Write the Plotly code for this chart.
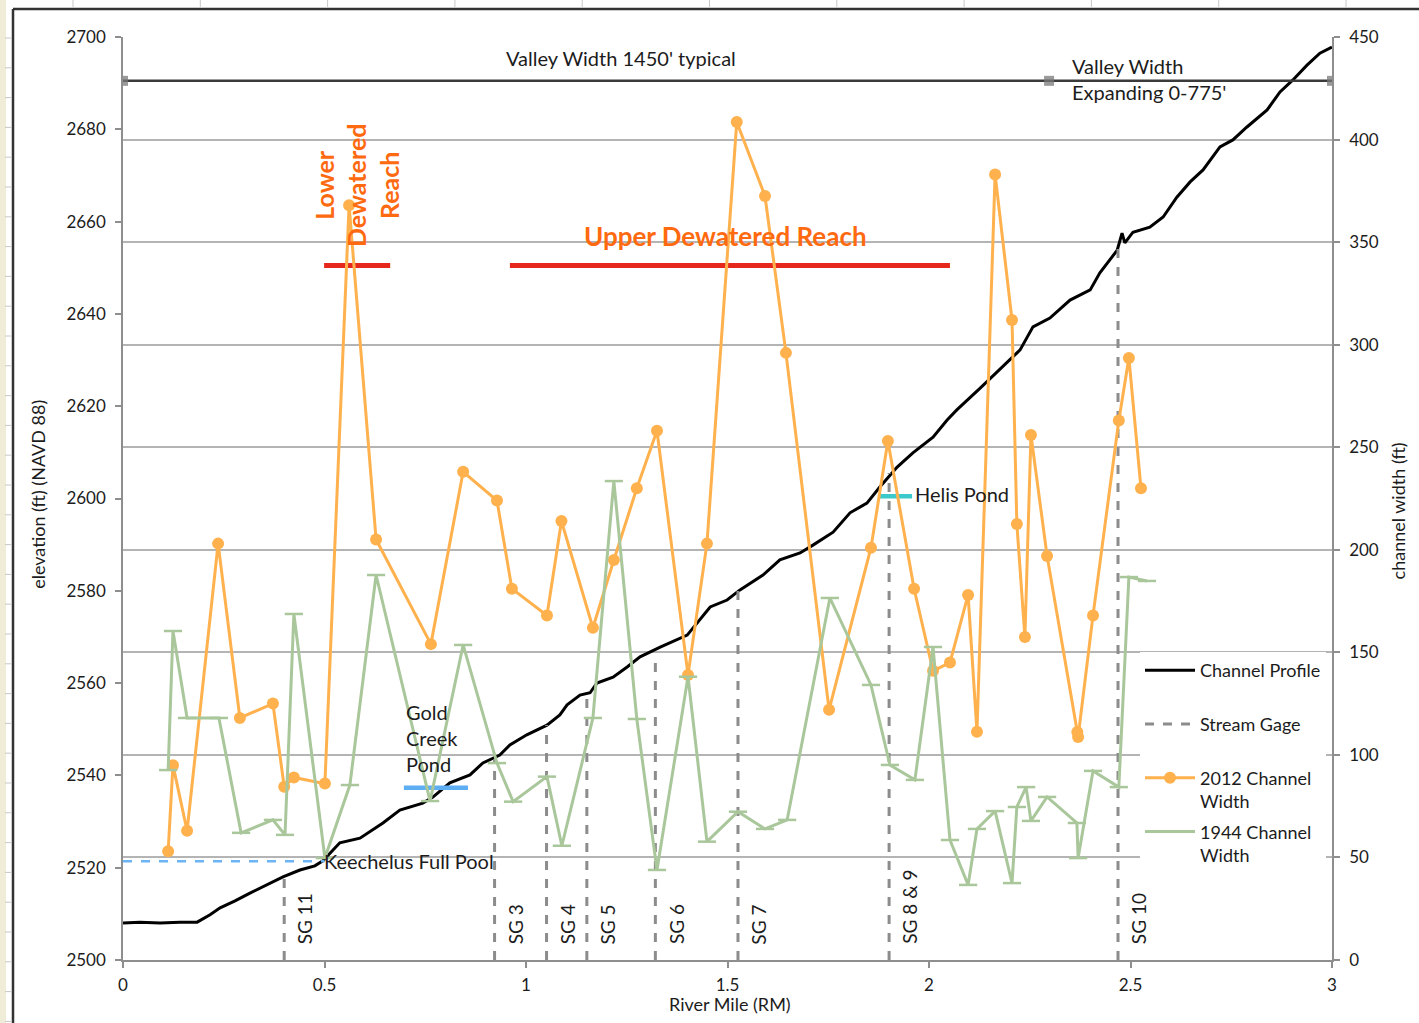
import plotly.graph_objects as go

# ---------------- data ----------------
profile_rm = [0.000, 0.042, 0.092, 0.141, 0.184, 0.216, 0.241, 0.278, 0.315, 0.360,
              0.397, 0.439, 0.476, 0.496, 0.538, 0.588, 0.645, 0.687, 0.744, 0.769,
              0.811, 0.861, 0.893, 0.935, 0.960, 1.002, 1.052, 1.084, 1.102, 1.134,
              1.159, 1.176, 1.216, 1.251, 1.283, 1.333, 1.400, 1.457, 1.499, 1.531,
              1.588, 1.630, 1.680, 1.712, 1.762, 1.804, 1.846, 1.878, 1.921, 1.960,
              2.010, 2.045, 2.069, 2.127, 2.194, 2.226, 2.258, 2.300, 2.350, 2.400,
              2.424, 2.467, 2.479, 2.486, 2.506, 2.548, 2.581, 2.615, 2.648, 2.680,
              2.722, 2.754, 2.789, 2.839, 2.871, 2.903, 2.938, 2.970, 3.000]
profile_elev = [2508.0, 2508.2, 2508.0, 2508.2, 2508.2, 2509.8, 2511.3, 2512.8, 2514.5, 2516.5,
                2518.0, 2519.5, 2520.4, 2521.5, 2525.4, 2526.4, 2529.7, 2532.5, 2534.0, 2535.3,
                2538.4, 2540.1, 2542.7, 2544.4, 2546.6, 2548.8, 2550.9, 2553.1, 2555.3, 2557.4,
                2557.9, 2560.0, 2561.3, 2563.5, 2565.7, 2567.8, 2570.4, 2576.5, 2578.0, 2580.2,
                2583.4, 2586.7, 2588.2, 2589.9, 2592.7, 2596.9, 2599.0, 2602.5, 2606.8, 2609.9,
                2613.3, 2617.0, 2619.2, 2623.9, 2629.4, 2632.2, 2637.2, 2639.1, 2643.0, 2645.2,
                2648.9, 2653.8, 2657.5, 2655.4, 2657.7, 2658.8, 2661.0, 2665.3, 2668.6, 2671.2,
                2676.2, 2677.7, 2680.5, 2684.2, 2688.1, 2690.7, 2693.9, 2696.5, 2697.8]

gage_rm = [0.400, 0.922, 1.051, 1.151, 1.321, 1.526, 1.901, 2.469]
gage_top = [2518.0, 2543.5, 2550.9, 2557.5, 2566.3, 2580.2, 2605.5, 2655.0]
gage_labels = ["SG 11", "SG 3", "SG 4", "SG 5", "SG 6", "SG 7", "SG 8 &amp; 9", "SG 10"]

w2012_rm = [0.112, 0.124, 0.159, 0.236, 0.290, 0.372, 0.400, 0.424, 0.501, 0.561,
            0.628, 0.764, 0.844, 0.928, 0.965, 1.052, 1.088, 1.166, 1.218, 1.275,
            1.325, 1.402, 1.449, 1.523, 1.593, 1.645, 1.752, 1.856, 1.898, 1.963,
            2.010, 2.052, 2.097, 2.119, 2.164, 2.206, 2.218, 2.238, 2.253, 2.293,
            2.368, 2.370, 2.407, 2.471, 2.496, 2.526]
w2012 = [53, 95, 63, 203, 118, 125, 84.5, 89, 86, 368,
         205, 154, 238, 224, 181, 168, 214, 162, 195, 230,
         258, 139, 203, 408.6, 372.5, 296, 122, 201, 253, 181,
         141, 145, 178, 111.3, 383, 312, 212.6, 157.5, 256, 197,
         111.2, 108.7, 168, 263, 293.5, 230]

w1944_rm = [0.112, 0.124, 0.159, 0.238, 0.293, 0.372, 0.402, 0.424, 0.501, 0.563,
            0.628, 0.762, 0.844, 0.928, 0.968, 1.052, 1.089, 1.166, 1.218, 1.275,
            1.325, 1.402, 1.449, 1.526, 1.593, 1.648, 1.754, 1.856, 1.903, 1.965,
            2.010, 2.052, 2.097, 2.119, 2.164, 2.206, 2.218, 2.241, 2.253, 2.293,
            2.367, 2.370, 2.407, 2.471, 2.496, 2.541]
w1944 = [92.6, 160.4, 118, 118, 62, 68.3, 61, 168.7, 49.7, 85.3,
         187.7, 77.5, 153.6, 96, 77.2, 89.4, 55.7, 118, 233.5, 117.5,
         43.9, 138.1, 57.7, 72.3, 63.9, 68.3, 176.5, 134.1, 95.1, 87.8,
         152.6, 58.5, 36.6, 63.9, 72.6, 37.5, 74.6, 84.3, 67.8, 79.5,
         66.8, 49.7, 92.2, 84.3, 186.7, 184.8]

valley_rm = [0.0, 2.298, 3.0]
valley_elev = [2690.5, 2690.5, 2690.5]
lower_reach_rm = [0.499, 0.663]
upper_reach_rm = [0.960, 2.052]
reach_elev = 2650.5
keechelus_rm = [0.0, 0.500]
keechelus_elev = 2521.4
gold_creek_rm = [0.697, 0.856]
gold_creek_elev = 2537.3
helis_rm = [1.878, 1.958]
helis_elev = 2600.5

x_ticks = [0, 0.5, 1, 1.5, 2, 2.5, 3]

FONT = "Lato"
TXT = "#1c1c1c"
ORANGE = "#FFB14E"
GREEN = "#A9C79B"
NB = "\u00a0"

fig = go.Figure()

# Channel profile
fig.add_trace(go.Scatter(x=profile_rm, y=profile_elev, mode="lines",
                         line=dict(color="black", width=3),
                         name="Channel Profile<br>" + NB, legendgroup="a"))
# Stream gages
gx, gy = [], []
for r, t in zip(gage_rm, gage_top):
    gx += [r, r, None]
    gy += [2500, t, None]
fig.add_trace(go.Scatter(x=gx, y=gy, mode="lines",
                         line=dict(color="#8C8C8C", width=3, dash="dash"),
                         name="Stream Gage<br>" + NB, legendgroup="b"))
# 2012 width
fig.add_trace(go.Scatter(x=w2012_rm, y=w2012, yaxis="y2", mode="lines+markers",
                         line=dict(color=ORANGE, width=3),
                         marker=dict(color=ORANGE, size=12, symbol="circle"),
                         name="2012 Channel<br>Width", legendgroup="c"))
# 1944 width
fig.add_trace(go.Scatter(x=w1944_rm, y=w1944, yaxis="y2", mode="lines+markers",
                         line=dict(color=GREEN, width=3),
                         marker=dict(color=GREEN, size=13, symbol="line-ew",
                                     line=dict(color=GREEN, width=2.5)),
                         name="1944 Channel<br>Width", legendgroup="d"))

# reference lines (no legend)
fig.add_trace(go.Scatter(x=valley_rm, y=valley_elev, mode="lines+markers",
                         line=dict(color="#3a3a3a", width=2.5),
                         marker=dict(symbol="square", size=10, color="rgba(120,120,120,0.75)"),
                         showlegend=False, hoverinfo="skip"))
for seg in (lower_reach_rm, upper_reach_rm):
    fig.add_trace(go.Scatter(x=seg, y=[reach_elev] * 2, mode="lines",
                             line=dict(color="#E5281B", width=5),
                             showlegend=False, hoverinfo="skip"))
fig.add_trace(go.Scatter(x=keechelus_rm, y=[keechelus_elev] * 2, mode="lines",
                         line=dict(color="#6DB4F5", width=2.5, dash="dash"),
                         showlegend=False, hoverinfo="skip"))
fig.add_trace(go.Scatter(x=gold_creek_rm, y=[gold_creek_elev] * 2, mode="lines",
                         line=dict(color="#5DAEF3", width=4.5),
                         showlegend=False, hoverinfo="skip"))
fig.add_trace(go.Scatter(x=helis_rm, y=[helis_elev] * 2, mode="lines",
                         line=dict(color="#3CC9CC", width=4.5),
                         showlegend=False, hoverinfo="skip"))

ann = []
for r, lab in zip(gage_rm, gage_labels):
    ann.append(dict(x=r, y=2503, xref="x", yref="y", text=lab, textangle=-90,
                    xanchor="left", yanchor="bottom", xshift=7, showarrow=False,
                    font=dict(family=FONT, size=19, color=TXT)))

ann += [
    dict(x=1.236, y=2695.4, text="Valley Width 1450' typical", xanchor="center", yanchor="middle"),
    dict(x=2.350, y=2691.0, text="Valley Width<br>Expanding 0-775'", xanchor="left",
         yanchor="middle", align="left"),
    dict(x=0.494, y=2521.5, text="Keechelus Full Pool", xanchor="left", yanchor="middle"),
    dict(x=0.697, y=2548.1, text="Gold<br>Creek<br>Pond", xanchor="left", yanchor="middle",
         align="left"),
    dict(x=1.960, y=2601.0, text="Helis Pond", xanchor="left", yanchor="middle"),
]
for a in ann[len(gage_rm):]:
    a.update(xref="x", yref="y", showarrow=False, font=dict(family=FONT, size=20, color=TXT))

ann += [
    dict(x=1.496, y=2656.9, xref="x", yref="y", text="<b>Upper Dewatered Reach</b>",
         showarrow=False, xanchor="center", yanchor="middle",
         font=dict(family=FONT, size=26, color="#FF6A10")),
    dict(x=0.578, y=2667.9, xref="x", yref="y", text="<b>Lower<br>Dewatered<br>Reach</b>",
         showarrow=False, xanchor="center", yanchor="middle", textangle=-90, align="center",
         font=dict(family=FONT, size=25, color="#FF6A10")),
    # axis titles
    dict(x=-0.0703, y=0.504, xref="paper", yref="paper", text="elevation (ft) (NAVD 88)",
         textangle=-90, showarrow=False, xanchor="center", yanchor="middle",
         font=dict(family=FONT, size=18, color=TXT)),
    dict(x=1.0546, y=0.486, xref="paper", yref="paper", text="channel width (ft)",
         textangle=-90, showarrow=False, xanchor="center", yanchor="middle",
         font=dict(family=FONT, size=18, color=TXT)),
    dict(x=0.502, y=-0.0475, xref="paper", yref="paper", text="River Mile (RM)",
         showarrow=False, xanchor="center", yanchor="middle",
         font=dict(family=FONT, size=18, color=TXT)),
]

# page decorations (spreadsheet frame)
PW, PH = 1209.0, 923.0
def px(x):
    return (x - 123) / PW
def py(y):
    return (960 - y) / PH

shapes = [
    dict(type="rect", xref="paper", yref="paper", x0=px(0), x1=px(6), y0=py(1023), y1=py(0),
         fillcolor="#EFEDD8", line=dict(width=0), layer="below"),
    dict(type="line", xref="paper", yref="paper", x0=px(13), x1=px(1419), y0=py(9), y1=py(9),
         line=dict(color="#333333", width=2.5)),
    dict(type="line", xref="paper", yref="paper", x0=px(13), x1=px(13), y0=py(9), y1=py(1023),
         line=dict(color="#333333", width=2.5)),
]
for k in range(11):
    xx = 73 + 127.3 * k
    shapes.append(dict(type="line", xref="paper", yref="paper", x0=px(xx), x1=px(xx),
                       y0=py(0), y1=py(7), line=dict(color="#C8C8C8", width=1)))
for k in range(34):
    yy = 38 + 29.8 * k
    shapes.append(dict(type="line", xref="paper", yref="paper", x0=px(5), x1=px(12),
                       y0=py(yy), y1=py(yy), line=dict(color="#C8C8C8", width=1)))

axis_common = dict(showline=True, linecolor="#8E8E8E", linewidth=1.5, ticks="outside",
                   tickcolor="#8E8E8E", ticklen=6, tickwidth=1.5,
                   tickfont=dict(family=FONT, size=17, color=TXT), zeroline=False)

fig.update_layout(
    width=1419, height=1023, autosize=False,
    margin=dict(l=123, r=87, t=37, b=63),
    paper_bgcolor="white", plot_bgcolor="white",
    xaxis=dict(range=[0, 3], tickvals=x_ticks, showgrid=False, ticklabelstandoff=3,
               **axis_common),
    yaxis=dict(range=[2500, 2700], dtick=20, showgrid=False, ticklabelstandoff=6,
               **axis_common),
    yaxis2=dict(range=[0, 450], dtick=50, overlaying="y", side="right", showgrid=True,
                gridcolor="#B4B4B4", gridwidth=1.5, ticklabelstandoff=6, **axis_common),
    legend=dict(x=px(1140), y=py(652), xanchor="left", yanchor="top",
                bgcolor="white", borderwidth=0, traceorder="grouped", valign="top",
                tracegroupgap=4, itemwidth=50,
                font=dict(family=FONT, size=18, color=TXT)),
    annotations=ann,
    shapes=shapes,
    showlegend=True,
)

fig.write_html("out.html", config={"displayModeBar": False},
               post_script="document.body.style.margin='0px';")
